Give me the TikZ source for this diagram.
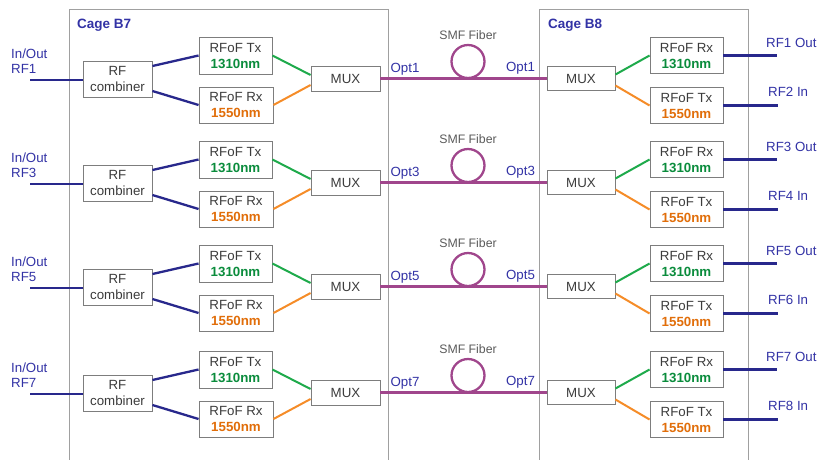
\documentclass[tikz,border=0pt]{standalone}
\usepackage{fontspec}
\setmainfont{Liberation Sans}
\usetikzlibrary{calc}
\definecolor{navy}{RGB}{40,40,140}
\definecolor{bluetxt}{RGB}{50,50,165}
\definecolor{grnline}{RGB}{30,170,75}
\definecolor{grntxt}{RGB}{10,140,60}
\definecolor{orgline}{RGB}{245,140,40}
\definecolor{orgtxt}{RGB}{225,110,10}
\definecolor{purp}{RGB}{160,70,140}
\definecolor{boxgray}{RGB}{125,125,125}
\definecolor{cagegray}{RGB}{160,160,160}
\definecolor{txtgray}{RGB}{60,60,60}
\definecolor{smfgray}{RGB}{90,90,90}
\begin{document}
\begin{tikzpicture}[x=1pt,y=-1pt,
  every node/.style={font=\fontsize{13.3}{16}\selectfont},
  box/.style={draw=boxgray, fill=white, line width=0.9pt, inner sep=0pt, text=txtgray, align=center},
  cage/.style={draw=cagegray, line width=0.9pt},
  bluewire/.style={draw=navy, line width=2.3pt},
  grnwire/.style={draw=grnline, line width=2pt},
  orgwire/.style={draw=orgline, line width=2pt},
  optwire/.style={draw=purp, line width=2.3pt},
  lbl/.style={text=bluetxt, inner sep=0pt},
  cagelbl/.style={text=bluetxt, font=\fontsize{13.5}{16}\selectfont\bfseries, inner sep=0pt, anchor=west}
]
\useasboundingbox (0,0) rectangle (822,459);
% cages
\draw[cage] (69,460) -- (69,9) -- (388.5,9) -- (388.5,460);
\draw[cage] (539,460) -- (539,9) -- (748,9) -- (748,460);
\node[cagelbl] (cb7) at (77,25) {Cage B7};
\node[cagelbl] (cb8) at (548,25) {Cage B8};
\foreach \i/\dy/\a/\b in {1/0/1/2, 2/104/3/4, 3/208/5/6, 4/314/7/8}{
  % left side
  \node[box, minimum width=69, minimum height=36] (comb\i) at (117.5,{79+\dy}) {RF\\combiner};
  \node[box, minimum width=73, minimum height=37] (tx\i) at (235.5,{55.5+\dy}) {RFoF Tx\\\textbf{\color{grntxt}1310nm}};
  \node[box, minimum width=74, minimum height=36] (rx\i) at (236,{105+\dy}) {RFoF Rx\\\textbf{\color{orgtxt}1550nm}};
  \node[box, minimum width=69, minimum height=25] (mux\i) at (345.5,{78.5+\dy}) {MUX};
  % right side
  \node[box, minimum width=68, minimum height=24] (rmux\i) at (581,{78.5+\dy}) {MUX};
  \node[box, minimum width=73, minimum height=36] (rrx\i) at (686.5,{55.5+\dy}) {RFoF Rx\\\textbf{\color{grntxt}1310nm}};
  \node[box, minimum width=73, minimum height=36] (rtx\i) at (686.5,{105.5+\dy}) {RFoF Tx\\\textbf{\color{orgtxt}1550nm}};
  % fiber loop
  \node[draw=purp, line width=2.3pt, circle, minimum size=33, inner sep=0pt] (fib\i) at (468,{61.5+\dy}) {};
  \node[text=smfgray, font=\fontsize{12.3}{14}\selectfont, inner sep=0pt] (smf\i) at (468,{35+\dy}) {SMF Fiber};
  % labels
  \node[lbl, align=left, anchor=west, font=\fontsize{13.3}{15}\selectfont] (in\i) at (11,{61+\dy}) {In/Out\\RF\a};
  \node[lbl] (optl\i) at (405,{69+\dy}) {Opt\a};
  \node[lbl] (optr\i) at (520.5,{68+\dy}) {Opt\a};
  \node[lbl, anchor=west] (out\i) at (766,{43+\dy}) {RF\a{} Out};
  \node[lbl, anchor=west] (inr\i) at (768,{92+\dy}) {RF\b{} In};
  \coordinate (src\i) at (30,{80+\dy});
  \coordinate (dsta\i) at (777,{56+\dy});
  \coordinate (dstb\i) at (778,{106+\dy});
  % wires
  \draw[bluewire] (src\i) -- (comb\i.west |- src\i);
  \draw[bluewire] ($(comb\i.east)+(0,-13)$) -- (tx\i.west);
  \draw[bluewire] ($(comb\i.east)+(0,12)$) -- (rx\i.west);
  \draw[grnwire] (tx\i.east) -- ($(mux\i.west)+(0,-3.5)$);
  \draw[orgwire] (rx\i.east) -- ($(mux\i.west)+(0,6.5)$);
  \draw[optwire] (mux\i.east) -- (rmux\i.west);
  \draw[grnwire] ($(rmux\i.east)+(0,-4)$) -- (rrx\i.west);
  \draw[orgwire] ($(rmux\i.east)+(0,7)$) -- (rtx\i.west);
  \draw[bluewire] (rrx\i.east) -- (rrx\i.east -| dsta\i);
  \draw[bluewire] (rtx\i.east) -- (rtx\i.east -| dstb\i);
}
\end{tikzpicture}
\end{document}
